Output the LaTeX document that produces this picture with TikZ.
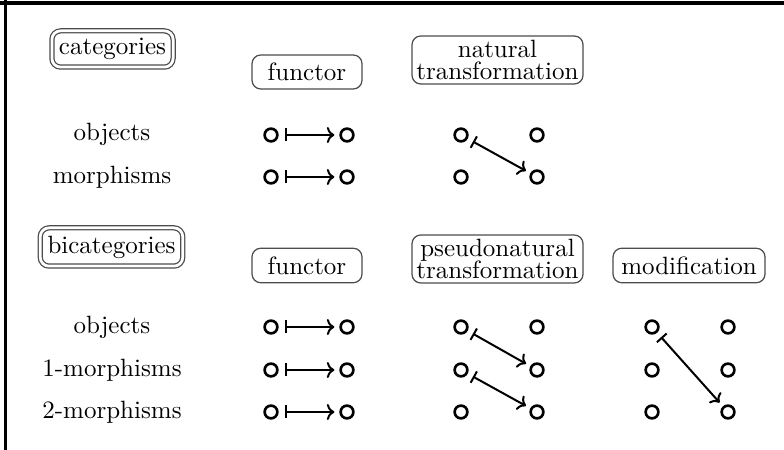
\documentclass[tikz,border=0pt]{standalone}
\usetikzlibrary{arrows.meta}
\begin{document}
\begin{tikzpicture}[x=0.4pt,y=-0.4pt,
  lbl/.style={inner sep=0pt},
  dot/.style={circle,draw,line width=1.05pt,minimum size=5.1pt,inner sep=0pt,outer sep=0.5pt},
  box/.style={draw=black!70,rounded corners=3.5pt,line width=0.5pt,inner sep=0pt,align=center},
  dbox/.style={box,double=white,double distance=1.1pt},
  maps/.style={{Bar[width=5.2pt,line width=0.8pt]}-{Computer Modern Rightarrow[width=6.4pt,length=3pt,line width=0.8pt]},
    line width=0.8pt,shorten <=2.4pt,shorten >=2pt}]
\useasboundingbox (0,0) rectangle (784,450);
% frame edges
\draw[line width=1.3pt] (0,3) -- (784,3);
\draw[line width=1.3pt] (5.5,0) -- (5.5,450);

% ---- categories ----
\node[dbox,minimum width=48.5pt,minimum height=14.5pt] (cat) at (112.5,49) {categories};
\node[box,minimum width=44pt,minimum height=13.6pt] (fun1) at (307,72) {functor};
\node[box,minimum width=68.4pt,minimum height=19.2pt] (nat) at (497.5,60) {natural\\[-3.2pt]transformation};

\node[lbl] (obA) at (112,134) {objects};
\node[lbl] (moA) at (112,177) {morphisms};

\foreach \r/\y in {1/135,2/177}{
  \node[dot] (fa\r) at (271,\y) {};
  \node[dot] (fb\r) at (347,\y) {};
  \node[dot] (na\r) at (461,\y) {};
  \node[dot] (nb\r) at (537,\y) {};
}
\draw[maps] (fa1) -- (fb1);
\draw[maps] (fa2) -- (fb2);
\draw[maps] (na1) -- (nb2);

% ---- bicategories ----
\node[dbox,minimum width=57pt,minimum height=15.3pt] (bicat) at (111.5,247) {bicategories};
\node[box,minimum width=44pt,minimum height=13.8pt] (fun2) at (307,265.5) {functor};
\node[box,minimum width=68.4pt,minimum height=19.2pt] (pseudo) at (497.5,259) {pseudonatural\\[-3.2pt]transformation};
\node[box,minimum width=60.8pt,minimum height=13.8pt] (modif) at (689,265.5) {modification};

\node[lbl] (obB) at (112,327) {objects};
\node[lbl] (m1B) at (112,370) {1-morphisms};
\node[lbl] (m2B) at (112,412) {2-morphisms};

\foreach \r/\y in {1/327,2/370,3/412}{
  \node[dot] (ga\r) at (271,\y) {};
  \node[dot] (gb\r) at (347,\y) {};
  \node[dot] (pa\r) at (461,\y) {};
  \node[dot] (pb\r) at (537,\y) {};
  \node[dot] (ma\r) at (652,\y) {};
  \node[dot] (mb\r) at (728,\y) {};
}
\draw[maps] (ga1) -- (gb1);
\draw[maps] (ga2) -- (gb2);
\draw[maps] (ga3) -- (gb3);
\draw[maps] (pa1) -- (pb2);
\draw[maps] (pa2) -- (pb3);
\draw[maps] (ma1) -- (mb3);
\end{tikzpicture}
\end{document}
